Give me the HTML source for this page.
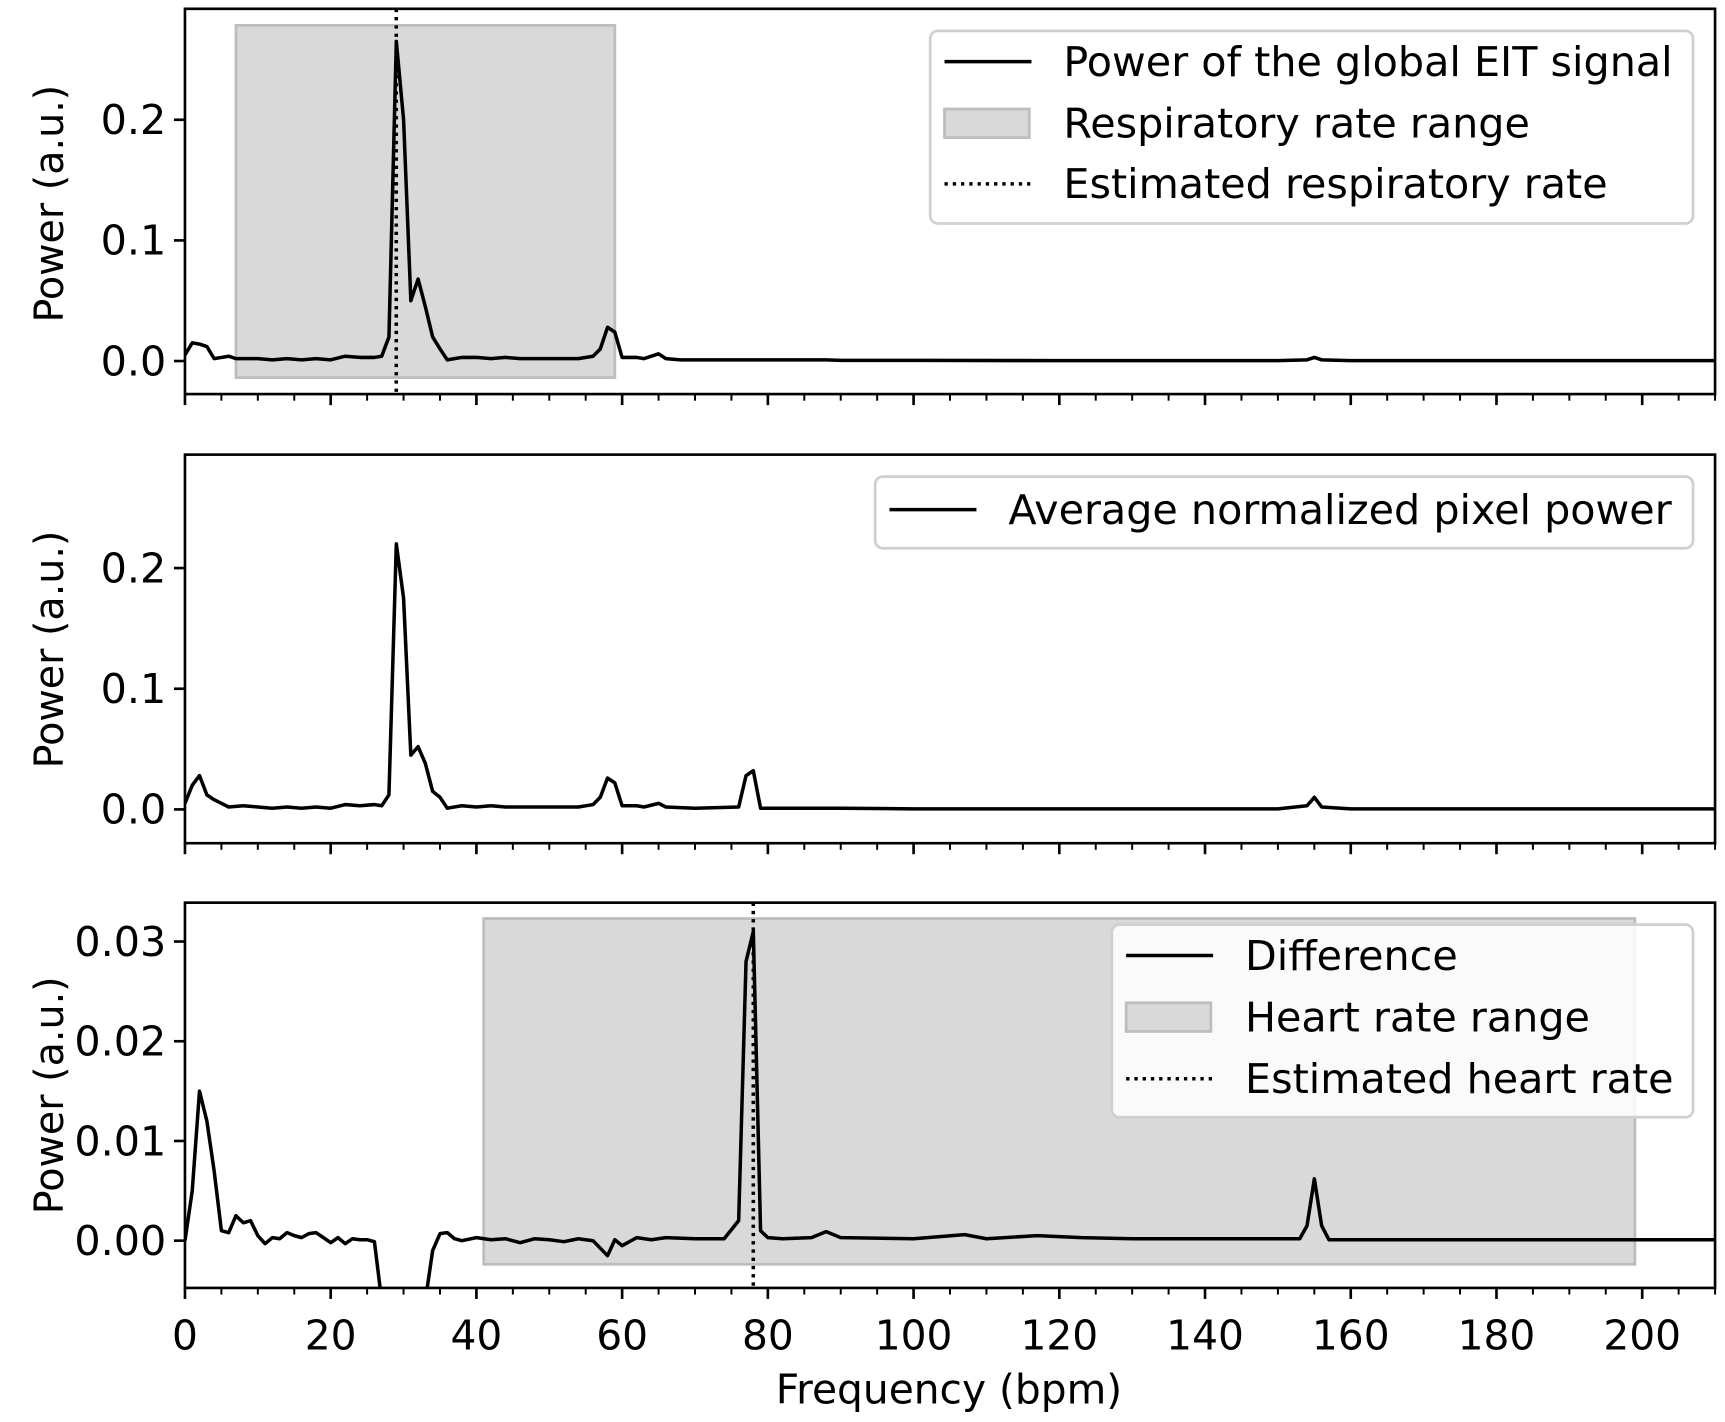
<!DOCTYPE html>
<html><head><meta charset="utf-8"><style>
html,body{margin:0;padding:0;background:#fff}
svg{display:block;font-family:"DejaVu Sans","Liberation Sans",sans-serif}
</style></head><body>
<svg id="chart" xmlns="http://www.w3.org/2000/svg" width="1725" height="1422" viewBox="0 0 1567 1291.8"></svg>
<script>
// ---- data ----
const globalFreq = [0,1,2,3,4,5,6,7,8,10,12,14,16,18,20,22,24,26,27,28,29,30,31,32,33,34,35,36,37,38,40,42,44,46,48,50,52,54,56,57,58,59,60,62,63,65,66,68,70,80,88,90,100,120,140,150,154,155,156,160,180,200,210];
const globalPower = [0.005,0.015,0.014,0.012,0.002,0.003,0.004,0.002,0.002,0.002,0.001,0.002,0.001,0.002,0.001,0.004,0.003,0.003,0.004,0.02,0.265,0.2,0.05,0.068,0.045,0.02,0.01,0.001,0.002,0.003,0.003,0.002,0.003,0.002,0.002,0.002,0.002,0.002,0.004,0.01,0.028,0.024,0.003,0.003,0.002,0.006,0.002,0.001,0.001,0.001,0.001,0.0005,0.0005,0.0003,0.0003,0.0003,0.001,0.003,0.001,0.0003,0.0003,0.0003,0.0003];
const avgFreq = [0,1,2,3,4,5,6,8,10,12,14,16,18,20,22,24,26,27,28,29,30,31,32,33,34,35,36,38,40,42,44,46,48,50,52,54,56,57,58,59,60,62,63,65,66,70,76,77,78,79,80,90,100,120,140,150,154,155,156,160,180,200,210];
const avgPower = [0.005,0.02,0.028,0.012,0.008,0.005,0.002,0.003,0.002,0.001,0.002,0.001,0.002,0.001,0.004,0.003,0.004,0.003,0.012,0.22,0.175,0.045,0.052,0.038,0.015,0.01,0.001,0.003,0.002,0.003,0.002,0.002,0.002,0.002,0.002,0.002,0.004,0.01,0.026,0.022,0.003,0.003,0.002,0.005,0.002,0.001,0.002,0.028,0.032,0.001,0.001,0.001,0.0005,0.0005,0.0005,0.0005,0.003,0.01,0.002,0.0005,0.0005,0.0005,0.0005];
const diffFreq = [0,1,2,3,4,5,6,7,8,9,10,11,12,13,14,15,16,17,18,19,20,21,22,23,24,25,26,27,28,32,33,34,35,36,37,38,40,42,44,46,48,50,52,54,56,58,59,60,62,64,66,70,74,76,77,78,79,80,82,86,88,90,100,107,110,117,123,130,140,150,153,154,155,156,157,160,180,200,210];
const diffPower = [0.0,0.005,0.015,0.012,0.007,0.001,0.0008,0.0025,0.0018,0.002,0.0005,-0.0003,0.0003,0.0002,0.0008,0.0005,0.0003,0.0007,0.0008,0.0003,-0.0002,0.0003,-0.0003,0.0002,0.0001,0.0001,-0.0001,-0.006,-0.02,-0.02,-0.006,-0.001,0.0007,0.0008,0.0002,0.0,0.0003,0.0001,0.0002,-0.0002,0.0002,0.0001,-0.0001,0.0002,0.0,-0.0015,0.0001,-0.0005,0.0003,0.0001,0.0003,0.0002,0.0002,0.002,0.028,0.031,0.001,0.0003,0.0002,0.0003,0.0009,0.0003,0.0002,0.0006,0.0002,0.0005,0.0003,0.0002,0.0002,0.0002,0.0002,0.0015,0.0062,0.0015,0.0001,0.0001,0.0001,0.0001,0.0001];
const xTicks = [0,20,40,60,80,100,120,140,160,180,200];
const y1Ticks = [0.0,0.1,0.2];
const y2Ticks = [0.0,0.1,0.2];
const y3Ticks = [0.00,0.01,0.02,0.03];
const respRange = [7,59];
const heartRange = [41,199];
const respEstimate = [29];
const heartEstimate = [78];

// ---- layout ----
const NS="http://www.w3.org/2000/svg";
const svg=document.getElementById('chart');
const L=168,R=1558;
const xMin=0,xMax=210;
const LW=3.2;
const sx=v=>L+(v-xMin)/(xMax-xMin)*(R-L);
function el(tag,attrs,parent){const e=document.createElementNS(NS,tag);for(const k in attrs)e.setAttribute(k,attrs[k]);(parent||svg).appendChild(e);return e;}
function txt(s,attrs,parent){const e=el('text',attrs,parent);e.textContent=s;return e;}

const panels=[
 {id:'p1',top:8,bot:358,ymin:-0.0274,ymax:0.292,ticks:y1Ticks,fmt:1,fx:globalFreq,fy:globalPower,span:respRange,est:respEstimate,labY:185},
 {id:'p2',top:413,bot:766,ymin:-0.028,ymax:0.294,ticks:y2Ticks,fmt:1,fx:avgFreq,fy:avgPower,span:null,est:null,labY:590},
 {id:'p3',top:820,bot:1170,ymin:-0.00474,ymax:0.0339,ticks:y3Ticks,fmt:2,fx:diffFreq,fy:diffPower,span:heartRange,est:heartEstimate,labY:995}
];
panels.forEach((p,pi)=>{
  const sy=v=>p.bot-(v-p.ymin)/(p.ymax-p.ymin)*(p.bot-p.top);
  const g=el('g',{});
  
  
  const cp=el('clipPath',{id:'clip'+pi},g);
  el('rect',{x:L,y:p.top,width:R-L,height:p.bot-p.top},cp);
  if(p.span){
    const r=el('rect',{x:sx(p.span[0]),y:sy(p.ymax*0.953),width:sx(p.span[1])-sx(p.span[0]),height:sy(p.ymin*0.5)-sy(p.ymax*0.953),fill:'#d9d9d9',stroke:'#bdbdbd','stroke-width':2.5},g);
    
    
  }
  let d='';p.fx.forEach((f,i)=>{d+=(i?'L':'M')+sx(f).toFixed(1)+','+sy(p.fy[i]).toFixed(1);});
  const line=el('path',{d:d,fill:'none',stroke:'#000','stroke-width':LW,'stroke-linejoin':'round','clip-path':'url(#clip'+pi+')'},g);
  
  
  if(p.est){
    const v=el('line',{x1:sx(p.est[0]),x2:sx(p.est[0]),y1:p.top,y2:p.bot,stroke:'#000','stroke-width':LW,'stroke-dasharray':'3,4.5'},g);
    
    
  }
  const fr=el('rect',{x:L,y:p.top,width:R-L,height:p.bot-p.top,fill:'none',stroke:'#000','stroke-width':2.4},g);
  
  
  for(let v=0;v<=xMax;v+=5){
    const major=v%20===0;
    el('line',{x1:sx(v),x2:sx(v),y1:p.bot,y2:p.bot+(major?10:6),stroke:'#000','stroke-width':major?2.4:1.8},g);
  }
  if(pi===2){
    xTicks.forEach(v=>{const t=txt(String(v),{x:sx(v),y:p.bot+56,'font-size':37,'text-anchor':'middle'},g);
      });
  }
  p.ticks.forEach(v=>{
    el('line',{x1:L-10,x2:L,y1:sy(v),y2:sy(v),stroke:'#000','stroke-width':2.4},g);
    const t=txt(v.toFixed(p.fmt),{x:L-17,y:sy(v)+13,'font-size':37.5,'text-anchor':'end'},g);
    
  });
  const yl=txt('Power (a.u.)',{x:0,y:0,'font-size':36,'text-anchor':'middle',transform:`translate(57,${p.labY}) rotate(-90)`},g);
  
});
const xl=txt('Frequency (bpm)',{x:862,y:1275,'font-size':37,'text-anchor':'middle'});


function legend(name,x,y,w,h,rows){
  const g=el('g',{});
  
  
  el('rect',{x:x,y:y,width:w,height:h,rx:7,fill:'#fff','fill-opacity':0.85,stroke:'#d0d0d0','stroke-width':2.5},g);
  rows.forEach(r=>{
    const lx=x+13;
    if(r.kind==='line') el('line',{x1:lx,x2:lx+79,y1:r.y,y2:r.y,stroke:'#000','stroke-width':LW},g);
    else if(r.kind==='dot') el('line',{x1:lx,x2:lx+79,y1:r.y,y2:r.y,stroke:'#000','stroke-width':LW,'stroke-dasharray':'3,4.5'},g);
    else el('rect',{x:lx,y:r.y-13,width:77,height:26,fill:'#d9d9d9',stroke:'#bdbdbd','stroke-width':2.5},g);
    const t=txt(r.label,{x:lx+108,y:r.y+13,'font-size':37.5},g);
    
  });
}
legend('legend-top',845,28,693,175,[{kind:'line',y:56,label:'Power of the global EIT signal'},{kind:'patch',y:112,label:'Respiratory rate range'},{kind:'dot',y:167,label:'Estimated respiratory rate'}]);
legend('legend-middle',795,433,743,65,[{kind:'line',y:463,label:'Average normalized pixel power'}]);
legend('legend-bottom',1010,840,528,175,[{kind:'line',y:868,label:'Difference'},{kind:'patch',y:924,label:'Heart rate range'},{kind:'dot',y:980,label:'Estimated heart rate'}]);
</script>
</body></html>
